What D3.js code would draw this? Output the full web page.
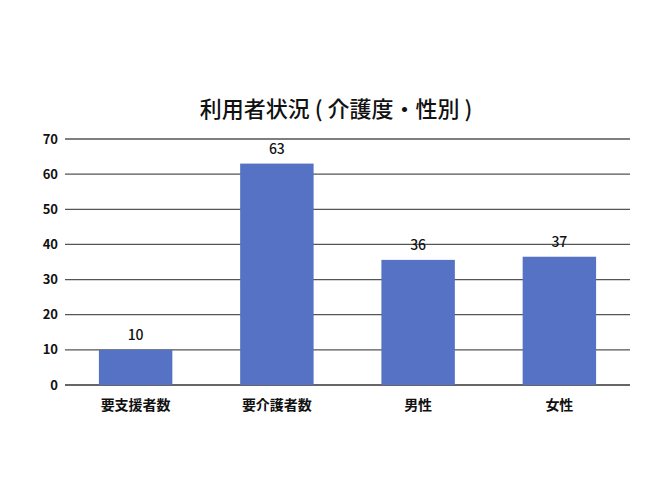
<!DOCTYPE html>
<html lang="ja">
<head>
    <meta charset="UTF-8">
    <title>利用者状況</title>
    <script src="https://cdn.jsdelivr.net/npm/d3@7"></script>
    <style>
        body { margin: 0; background: #fff; }
        text { font-family: "Noto Sans CJK JP", "Noto Sans", sans-serif; fill: #111; }
    </style>
</head>
<body>
<script>
    // データ
    var categories = ["要支援者数", "要介護者数", "男性", "女性"];
    var values = [10, 63, 35.6, 36.5];
    var yTicks = [0, 10, 20, 30, 40, 50, 60, 70];
    var title = "利用者状況 ( 介護度・性別 )";

    var W = 665, H = 500;
    var plotL = 65, plotR = 630, plotT = 139, plotB = 385;

    var svg = d3.select("body").append("svg")
        .attr("width", W).attr("height", H);

    var x = d3.scaleBand().domain(categories).range([plotL, plotR])
        .paddingInner(0.48).paddingOuter(0.24);
    var y = d3.scaleLinear().domain([0, 70]).range([plotB, plotT]);

    // グリッド
    svg.append("g").selectAll("line").data(yTicks).enter().append("line")
        .attr("x1", plotL).attr("x2", plotR)
        .attr("y1", function (d) { return y(d); })
        .attr("y2", function (d) { return y(d); })
        .attr("stroke", function (d) { return d === 0 ? "#333" : "#555"; })
        .attr("stroke-width", 1.3);

    // y軸ラベル
    svg.append("g").selectAll("text").data(yTicks).enter().append("text")
        .attr("x", 58).attr("y", function (d) { return y(d); })
        .attr("dy", "0.35em")
        .attr("text-anchor", "end")
        .attr("font-size", 13).attr("font-weight", 700)
        .text(function (d) { return d; });

    // 棒
    svg.append("g").selectAll("rect").data(values).enter().append("rect")
        .attr("x", function (d, i) { return x(categories[i]); })
        .attr("width", x.bandwidth())
        .attr("y", function (d) { return y(d); })
        .attr("height", function (d) { return y(0) - y(d); })
        .attr("fill", "#5572c4");

    // 値ラベル
    svg.append("g").selectAll("text").data(values).enter().append("text")
        .attr("x", function (d, i) { return x(categories[i]) + x.bandwidth() / 2; })
        .attr("y", function (d) { return y(d) - 10; })
        .attr("text-anchor", "middle")
        .attr("font-size", 14).attr("font-weight", 500)
        .text(function (d) { return Math.round(d); });

    // カテゴリラベル
    svg.append("g").selectAll("text").data(categories).enter().append("text")
        .attr("x", function (d) { return x(d) + x.bandwidth() / 2; })
        .attr("y", 410)
        .attr("text-anchor", "middle")
        .attr("font-size", 14).attr("font-weight", 700)
        .text(function (d) { return d; });

    // タイトル
    svg.append("text")
        .attr("x", 336).attr("y", 117)
        .attr("text-anchor", "middle")
        .attr("font-size", 22).attr("font-weight", 500)
        .text(title);
</script>
</body>
</html>
